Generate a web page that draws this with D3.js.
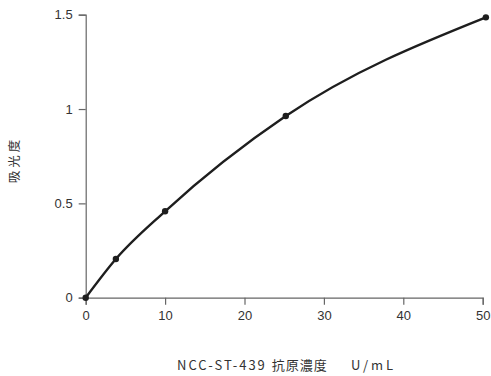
<!DOCTYPE html>
<html>
<head>
<meta charset="utf-8">
<script src="https://cdn.jsdelivr.net/npm/d3@7"></script>
<style>
  body { margin: 0; background: #fff; }
  svg { display: block; font-family: "Noto Sans CJK JP", "Noto Sans", sans-serif; }
</style>
</head>
<body>
<svg id="chart"></svg>
<script>
// antigen concentration (U/mL) vs absorbance
const concentrations = [0, 3.8, 10, 25.2, 50.4];
const absorbance = [0, 0.205, 0.458, 0.963, 1.486];
const xTicks = [0, 10, 20, 30, 40, 50];
const yTicks = [0, 0.5, 1, 1.5];

const width = 491, height = 376;
const margin = {top: 14.7, right: 8.3, bottom: 78.3, left: 85.7};

const svg = d3.select("#chart")
  .attr("width", width)
  .attr("height", height);

const x = d3.scaleLinear().domain([0, 50]).range([margin.left, width - margin.right]);
const y = d3.scaleLinear().domain([0, 1.5]).range([height - margin.bottom, margin.top]);

const xAxis = svg.append("g")
  .attr("transform", `translate(0,${height - margin.bottom})`)
  .call(d3.axisBottom(x).tickValues(xTicks).tickSize(7).tickPadding(6).tickFormat(d3.format("d")));

const yAxis = svg.append("g")
  .attr("transform", `translate(${margin.left},0)`)
  .call(d3.axisLeft(y).tickValues(yTicks).tickSize(7).tickPadding(6).tickFormat(d => d));

for (const g of [xAxis, yAxis]) {
  g.select(".domain").attr("stroke", "#666").attr("stroke-width", 1.2);
  g.selectAll(".tick line").attr("stroke", "#666").attr("stroke-width", 1.2);
  g.selectAll(".tick text")
    .attr("fill", "#333")
    .attr("font-size", 13)
    .attr("font-family", "'Liberation Sans', sans-serif");
}

const line = d3.line()
  .x((d, i) => x(concentrations[i]))
  .y(d => y(d))
  .curve(d3.curveMonotoneX);

svg.append("path")
  .datum(absorbance)
  .attr("fill", "none")
  .attr("stroke", "#1e1e1e")
  .attr("stroke-width", 2.4)
  .attr("d", line);

svg.append("g")
  .selectAll("circle")
  .data(absorbance)
  .join("circle")
  .attr("cx", (d, i) => x(concentrations[i]))
  .attr("cy", d => y(d))
  .attr("r", 3.2)
  .attr("fill", "#1e1e1e");

// axis titles
svg.append("text")
  .attr("transform", "translate(19,160) rotate(-90)")
  .attr("text-anchor", "middle")
  .attr("font-size", 12.5)
  .attr("letter-spacing", 3)
  .attr("fill", "#333")
  .text("吸光度");

const xTitle = svg.append("text")
  .attr("x", 177)
  .attr("y", 370)
  .attr("font-size", 13)
  .attr("fill", "#333")
  .attr("xml:space", "preserve");
xTitle.append("tspan").attr("letter-spacing", 2).text("NCC-ST-439 ");
xTitle.append("tspan").attr("letter-spacing", 1).text("抗原濃度");
xTitle.append("tspan").attr("x", 351).attr("letter-spacing", 3).text("U/mL");
</script>
</body>
</html>
